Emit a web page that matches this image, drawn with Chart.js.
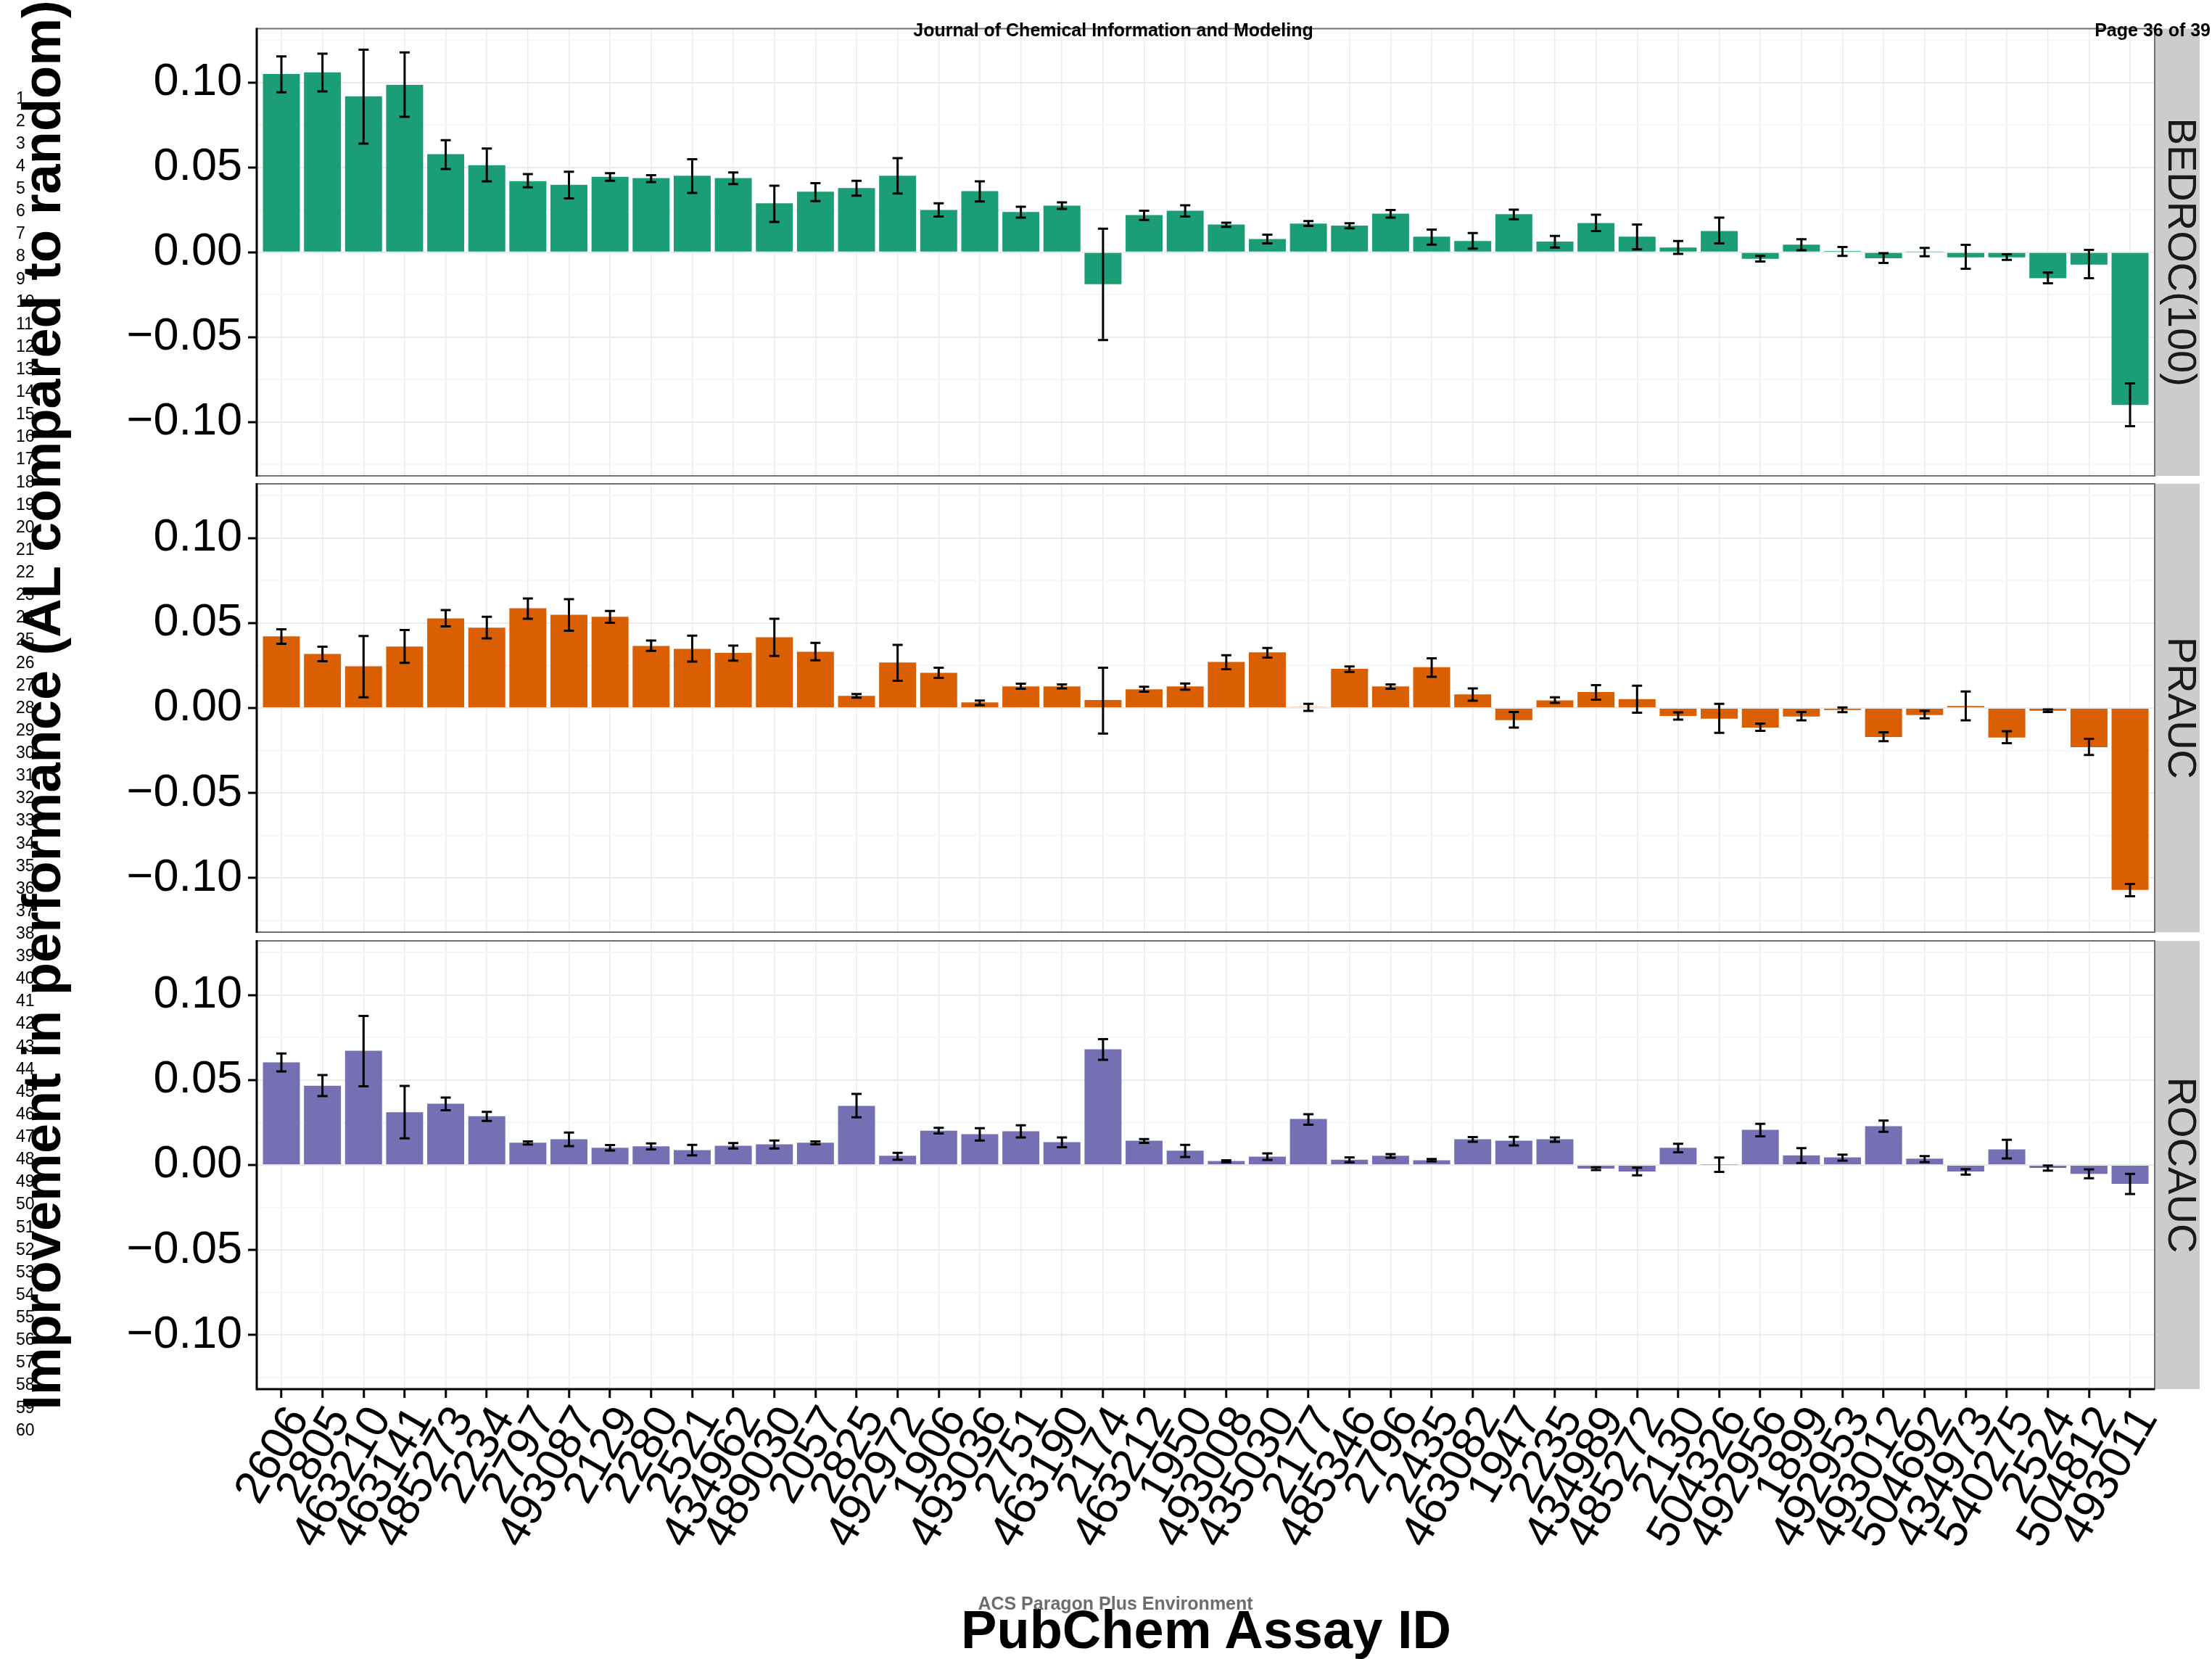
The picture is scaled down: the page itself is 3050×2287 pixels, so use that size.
<!DOCTYPE html>
<html>
<head>
<meta charset="utf-8">
<script src="https://cdn.jsdelivr.net/npm/chart.js@4.4.1/dist/chart.umd.min.js"></script>
<style>
  html, body { margin: 0; padding: 0; background: #ffffff; overflow: hidden; }
  body { width: 3050px; height: 2287px; position: relative; font-family: "Liberation Sans", Arial, sans-serif; }
  canvas { position: absolute; left: 0; top: 0; }
  .txt { position: absolute; white-space: nowrap; color: #000; z-index: 5; }
</style>
</head>
<body>
<canvas id="c1" width="3050" height="2287"></canvas>
<canvas id="c2" width="3050" height="2287"></canvas>
<canvas id="c3" width="3050" height="2287"></canvas>

<div class="txt" style="left:1035px; top:29px; width:1000px; text-align:center; font:bold 25px/25px 'Liberation Sans', Arial, sans-serif;">Journal of Chemical Information and Modeling</div>
<div class="txt" style="right:2px; top:29px; font:bold 25px/25px 'Liberation Sans', Arial, sans-serif;">Page 36 of 39</div>
<div class="txt" style="left:-992px; top:935px; width:2100px; height:74px; text-align:center; font:bold 74px/74px 'Liberation Sans', Arial, sans-serif; transform:rotate(-90deg);">Improvement in performance (AL compared to random)</div>
<div class="txt" style="left:663px; top:2210px; width:2000px; text-align:center; font:bold 74px/74px 'Liberation Sans', Arial, sans-serif;">PubChem Assay ID</div>
<div class="txt" style="left:1038px; top:2198px; width:1000px; text-align:center; color:#6d6d6d; font:bold 25px/25px 'Liberation Sans', Arial, sans-serif;">ACS Paragon Plus Environment</div>
<div id="lines"></div>

<script>
// ---------------- data ----------------
const assays = ["2606","2805","463210","463141","485273","2234","2797","493087","2129","2280","2521","434962","489030","2057","2825","492972","1906","493036","2751","463190","2174","463212","1950","493008","435030","2177","485346","2796","2435","463082","1947","2235","434989","485272","2130","504326","492956","1899","492953","493012","504692","434973","540275","2524","504812","493011"];

const panelLabels = ["BEDROC(100)", "PRAUC", "ROCAUC"];
const yTicks = [-0.10, -0.05, 0.00, 0.05, 0.10];
const yMinorTicks = [-0.125, -0.075, -0.025, 0.025, 0.075, 0.125];

const bedroc   = [0.1051,0.1060,0.0919,0.0987,0.0578,0.0513,0.0419,0.0398,0.0445,0.0437,0.0451,0.0437,0.0289,0.0357,0.0378,0.0451,0.0249,0.0360,0.0237,0.0275,-0.0188,0.0219,0.0245,0.0164,0.0078,0.0169,0.0157,0.0228,0.0092,0.0066,0.0224,0.0063,0.0172,0.0092,0.0028,0.0125,-0.0038,0.0045,0.0007,-0.0035,0.0002,-0.0030,-0.0030,-0.0153,-0.0073,-0.0900];
const bedrocLo = [0.0943,0.0948,0.0640,0.0799,0.0491,0.0418,0.0383,0.0317,0.0421,0.0414,0.0350,0.0402,0.0179,0.0301,0.0334,0.0346,0.0211,0.0299,0.0204,0.0256,-0.0517,0.0190,0.0211,0.0150,0.0052,0.0155,0.0141,0.0204,0.0045,0.0021,0.0195,0.0028,0.0125,0.0017,-0.0010,0.0052,-0.0054,0.0012,-0.0021,-0.0063,-0.0024,-0.0097,-0.0045,-0.0183,-0.0153,-0.1025];
const bedrocHi = [0.1154,0.1171,0.1194,0.1178,0.0661,0.0611,0.0461,0.0475,0.0466,0.0454,0.0548,0.0470,0.0392,0.0407,0.0421,0.0555,0.0289,0.0418,0.0268,0.0294,0.0139,0.0245,0.0277,0.0174,0.0104,0.0184,0.0171,0.0249,0.0134,0.0113,0.0251,0.0096,0.0221,0.0164,0.0066,0.0204,-0.0021,0.0077,0.0031,-0.0005,0.0026,0.0044,-0.0012,-0.0120,0.0014,-0.0773];

const prauc   = [0.0421,0.0318,0.0245,0.0362,0.0527,0.0472,0.0586,0.0548,0.0536,0.0365,0.0348,0.0324,0.0416,0.0331,0.0071,0.0268,0.0207,0.0033,0.0127,0.0127,0.0047,0.0110,0.0127,0.0271,0.0327,0.0005,0.0230,0.0127,0.0240,0.0080,-0.0071,0.0045,0.0094,0.0052,-0.0047,-0.0063,-0.0115,-0.0050,-0.0012,-0.0171,-0.0042,0.0012,-0.0174,-0.0016,-0.0230,-0.1070];
const praucLo = [0.0378,0.0275,0.0063,0.0266,0.0480,0.0409,0.0525,0.0454,0.0501,0.0336,0.0273,0.0278,0.0306,0.0280,0.0061,0.0160,0.0177,0.0017,0.0113,0.0115,-0.0150,0.0096,0.0108,0.0228,0.0296,-0.0017,0.0212,0.0113,0.0183,0.0043,-0.0115,0.0030,0.0049,-0.0028,-0.0068,-0.0146,-0.0134,-0.0073,-0.0024,-0.0195,-0.0061,-0.0073,-0.0207,-0.0023,-0.0276,-0.1107];
const praucHi = [0.0463,0.0360,0.0423,0.0458,0.0576,0.0536,0.0644,0.0640,0.0570,0.0397,0.0425,0.0367,0.0525,0.0383,0.0082,0.0371,0.0237,0.0044,0.0143,0.0139,0.0237,0.0125,0.0144,0.0310,0.0353,0.0024,0.0244,0.0139,0.0292,0.0115,-0.0023,0.0063,0.0134,0.0131,-0.0026,0.0024,-0.0092,-0.0023,0.0003,-0.0143,-0.0017,0.0097,-0.0136,-0.0009,-0.0181,-0.1034];

const rocauc   = [0.0604,0.0466,0.0672,0.0310,0.0360,0.0287,0.0131,0.0151,0.0101,0.0110,0.0087,0.0113,0.0122,0.0131,0.0348,0.0054,0.0202,0.0181,0.0198,0.0134,0.0680,0.0143,0.0084,0.0023,0.0049,0.0271,0.0031,0.0054,0.0028,0.0151,0.0143,0.0151,-0.0021,-0.0038,0.0101,0.0002,0.0207,0.0057,0.0045,0.0228,0.0037,-0.0038,0.0092,-0.0017,-0.0052,-0.0111];
const rocaucLo = [0.0550,0.0405,0.0463,0.0157,0.0322,0.0259,0.0120,0.0111,0.0085,0.0092,0.0056,0.0097,0.0097,0.0122,0.0280,0.0031,0.0186,0.0144,0.0162,0.0104,0.0618,0.0130,0.0047,0.0016,0.0030,0.0237,0.0016,0.0043,0.0021,0.0137,0.0115,0.0137,-0.0030,-0.0061,0.0075,-0.0040,0.0169,0.0012,0.0026,0.0195,0.0017,-0.0056,0.0038,-0.0033,-0.0078,-0.0171];
const rocaucHi = [0.0656,0.0529,0.0877,0.0465,0.0397,0.0312,0.0139,0.0191,0.0117,0.0127,0.0118,0.0129,0.0144,0.0139,0.0418,0.0071,0.0219,0.0217,0.0233,0.0162,0.0740,0.0153,0.0118,0.0028,0.0068,0.0299,0.0045,0.0064,0.0035,0.0164,0.0165,0.0162,-0.0014,-0.0016,0.0125,0.0044,0.0242,0.0099,0.0061,0.0261,0.0052,-0.0024,0.0148,-0.0003,-0.0026,-0.0052];

// ---------------- page line numbers ----------------
(function () {
  const holder = document.getElementById('lines');
  for (let n = 1; n <= 60; n++) {
    const d = document.createElement('div');
    d.className = 'txt';
    d.style.left = '22px';
    d.style.top = (143 + (n - 1) * 31.12 - 19.5).toFixed(1) + 'px';
    d.style.font = "23px/23px 'Liberation Sans', Arial, sans-serif";
    d.textContent = String(n);
    holder.appendChild(d);
  }
})();

// ---------------- plugins ----------------
const FONT = "'Liberation Sans', Arial, sans-serif";

const errorBars = {
  id: 'errorBars',
  afterDatasetsDraw(chart, args, opts) {
    const ctx = chart.ctx, ys = chart.scales.y, meta = chart.getDatasetMeta(0);
    const lo = opts.lo, hi = opts.hi;
    ctx.save();
    ctx.strokeStyle = '#000';
    ctx.lineWidth = 3;
    ctx.lineCap = 'butt';
    meta.data.forEach((bar, i) => {
      const x = bar.x;
      const y1 = ys.getPixelForValue(lo[i]);
      const y2 = ys.getPixelForValue(hi[i]);
      ctx.beginPath();
      ctx.moveTo(x, y1); ctx.lineTo(x, y2);
      ctx.moveTo(x - 7, y1); ctx.lineTo(x + 7, y1);
      ctx.moveTo(x - 7, y2); ctx.lineTo(x + 7, y2);
      ctx.stroke();
    });
    ctx.restore();
  }
};

const panelFrame = {
  id: 'panelFrame',
  beforeDraw(chart) {
    const a = chart.chartArea, s = chart.scales.strip, ctx = chart.ctx;
    ctx.save();
    ctx.fillStyle = '#CCCCCC';
    ctx.fillRect(a.right, a.top, s.right - a.right, a.bottom - a.top);
    ctx.restore();
  },
  beforeDatasetsDraw(chart) {
    const a = chart.chartArea, ys = chart.scales.y, ctx = chart.ctx;
    ctx.save();
    ctx.strokeStyle = '#F5F5F5';
    ctx.lineWidth = 2;
    yMinorTicks.forEach(v => {
      const y = ys.getPixelForValue(v);
      ctx.beginPath(); ctx.moveTo(a.left, y); ctx.lineTo(a.right, y); ctx.stroke();
    });
    ctx.restore();
  },
  afterDraw(chart, args, opts) {
    const a = chart.chartArea, ctx = chart.ctx;
    ctx.save();
    ctx.strokeStyle = '#707070';
    ctx.lineWidth = 2;
    ctx.strokeRect(a.left, a.top, a.right - a.left, a.bottom - a.top);
    ctx.strokeStyle = '#000';
    ctx.lineWidth = 3;
    ctx.beginPath(); ctx.moveTo(a.left, a.top - 1); ctx.lineTo(a.left, a.bottom + (opts.isBottom ? 1.5 : 1)); ctx.stroke();
    if (opts.isBottom) {
      ctx.beginPath(); ctx.moveTo(a.left, a.bottom); ctx.lineTo(a.right, a.bottom); ctx.stroke();
    }
    ctx.restore();
  }
};

// ---------------- panels ----------------
function makePanel(id, label, values, lo, hi, color, top, bottom, isBottom) {
  const xAxisH = isBottom ? 330 : 0;
  return new Chart(document.getElementById(id), {
    type: 'bar',
    data: {
      datasets: [{
        data: values.map((v, i) => ({ x: i, y: v })),
        backgroundColor: color,
        borderWidth: 0,
        barPercentage: 0.9,
        categoryPercentage: 1.0
      }]
    },
    plugins: [errorBars, panelFrame],
    options: {
      responsive: false,
      animation: false,
      devicePixelRatio: 1,
      events: [],
      layout: { padding: { left: 0, right: 17, top: top, bottom: 2287 - bottom - xAxisH } },
      plugins: {
        legend: { display: false },
        tooltip: { enabled: false },
        errorBars: { lo: lo, hi: hi },
        panelFrame: { isBottom: isBottom }
      },
      scales: {
        x: {
          type: 'linear',
          position: 'bottom',
          min: -0.6,
          max: assays.length - 0.4,
          bounds: 'data',
          offset: false,
          afterBuildTicks: s => { s.ticks = assays.map((_, i) => ({ value: i })); },
          afterFit: s => { s.height = xAxisH; },
          grid: { color: '#EBEBEB', lineWidth: 1.5, offset: false, drawTicks: isBottom, tickLength: 12, tickColor: '#000', tickWidth: 3 },
          border: { display: false },
          ticks: {
            display: isBottom,
            autoSkip: false,
            maxRotation: 60,
            minRotation: 60,
            padding: 0,
            labelOffset: 24,
            color: '#000',
            font: { family: FONT, size: 63 },
            callback: v => assays[v]
          }
        },
        y: {
          type: 'linear',
          position: 'left',
          min: -0.1318,
          max: 0.1318,
          bounds: 'data',
          afterBuildTicks: s => { s.ticks = yTicks.map(v => ({ value: v })); },
          afterFit: s => { s.width = 354; },
          grid: { color: '#EBEBEB', lineWidth: 2, drawTicks: true, tickLength: 12, tickColor: '#000', tickWidth: 3 },
          border: { display: false },
          ticks: {
            padding: 8,
            color: '#000',
            font: { family: FONT, size: 63, lineHeight: 1 },
            callback: v => (v < 0 ? '\u2212' : '') + Math.abs(v).toFixed(2)
          }
        },
        strip: {
          type: 'linear',
          position: 'right',
          display: true,
          afterFit: s => { s.width = 62; },
          grid: { display: false, drawOnChartArea: false, drawTicks: false },
          border: { display: false },
          ticks: { display: false },
          title: {
            display: true,
            text: label,
            color: '#1A1A1A',
            padding: 0,
            font: { family: FONT, size: 56, lineHeight: 1 }
          }
        }
      }
    }
  });
}

makePanel('c1', panelLabels[0], bedroc, bedrocLo, bedrocHi, '#1B9E77', 38, 656, false);
makePanel('c2', panelLabels[1], prauc, praucLo, praucHi, '#D95F02', 667, 1285, false);
makePanel('c3', panelLabels[2], rocauc, rocaucLo, rocaucHi, '#7570B3', 1297, 1915, true);
</script>
</body>
</html>
